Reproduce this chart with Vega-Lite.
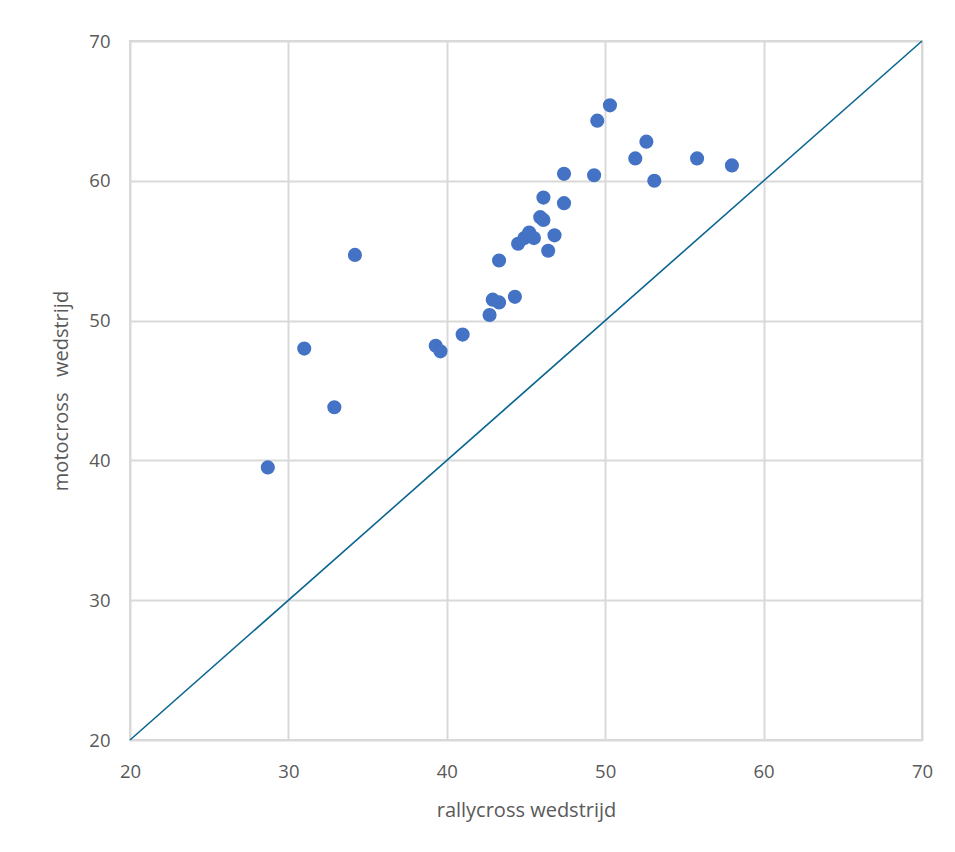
{
  "$schema": "https://vega.github.io/schema/vega-lite/v6.json",
  "autosize": {"type": "none"},
  "width": 792,
  "height": 699,
  "padding": {"left": 130, "top": 41, "right": 33, "bottom": 112},
  "background": "white",
  "config": {
    "view": {"stroke": "#D9D9D9", "strokeWidth": 2},
    "font": "Open Sans",
    "axis": {
      "grid": true,
      "gridColor": "#D9D9D9",
      "gridWidth": 2,
      "domain": false,
      "ticks": false,
      "labelFlush": false,
      "labelColor": "#595959",
      "labelFontSize": 18.5,
      "labelFont": "Open Sans",
      "titleFont": "Open Sans",
      "titleFontWeight": "normal",
      "titleFontSize": 20,
      "titleColor": "#595959"
    }
  },
  "datasets": {
    "points": [
      {"rallycross": 28.7, "motocross": 39.5},
      {"rallycross": 31.0, "motocross": 48.0},
      {"rallycross": 32.9, "motocross": 43.8},
      {"rallycross": 34.2, "motocross": 54.7},
      {"rallycross": 39.3, "motocross": 48.2},
      {"rallycross": 39.6, "motocross": 47.8},
      {"rallycross": 41.0, "motocross": 49.0},
      {"rallycross": 42.7, "motocross": 50.4},
      {"rallycross": 42.9, "motocross": 51.5},
      {"rallycross": 43.3, "motocross": 51.3},
      {"rallycross": 44.3, "motocross": 51.7},
      {"rallycross": 43.3, "motocross": 54.3},
      {"rallycross": 44.5, "motocross": 55.5},
      {"rallycross": 44.9, "motocross": 55.9},
      {"rallycross": 45.2, "motocross": 56.3},
      {"rallycross": 45.5, "motocross": 55.9},
      {"rallycross": 45.9, "motocross": 57.4},
      {"rallycross": 46.1, "motocross": 57.2},
      {"rallycross": 46.1, "motocross": 58.8},
      {"rallycross": 46.4, "motocross": 55.0},
      {"rallycross": 46.8, "motocross": 56.1},
      {"rallycross": 47.4, "motocross": 58.4},
      {"rallycross": 47.4, "motocross": 60.5},
      {"rallycross": 49.3, "motocross": 60.4},
      {"rallycross": 49.5, "motocross": 64.3},
      {"rallycross": 50.3, "motocross": 65.4},
      {"rallycross": 51.9, "motocross": 61.6},
      {"rallycross": 52.6, "motocross": 62.8},
      {"rallycross": 53.1, "motocross": 60.0},
      {"rallycross": 55.8, "motocross": 61.6},
      {"rallycross": 58.0, "motocross": 61.1}
    ],
    "diagonal": [
      {"rallycross": 20, "motocross": 20},
      {"rallycross": 70, "motocross": 70}
    ]
  },
  "layer": [
    {
      "data": {"name": "diagonal"},
      "mark": {"type": "line", "color": "#0B6591", "strokeWidth": 1.6},
      "encoding": {
        "x": {
          "field": "rallycross", "type": "quantitative",
          "scale": {"domain": [20, 70], "nice": false, "zero": false},
          "axis": {"values": [20, 30, 40, 50, 60, 70], "title": "rallycross wedstrijd", "labelPadding": 22, "titlePadding": 20}
        },
        "y": {
          "field": "motocross", "type": "quantitative",
          "scale": {"domain": [20, 70], "nice": false, "zero": false},
          "axis": {"values": [20, 30, 40, 50, 60, 70], "title": "motocross\u00a0\u00a0\u00a0wedstrijd", "labelPadding": 20, "titlePadding": 17}
        }
      }
    },
    {
      "data": {"name": "points"},
      "mark": {"type": "circle", "size": 200, "color": "#4472C4", "opacity": 1},
      "encoding": {
        "x": {"field": "rallycross", "type": "quantitative"},
        "y": {"field": "motocross", "type": "quantitative"}
      }
    }
  ]
}
